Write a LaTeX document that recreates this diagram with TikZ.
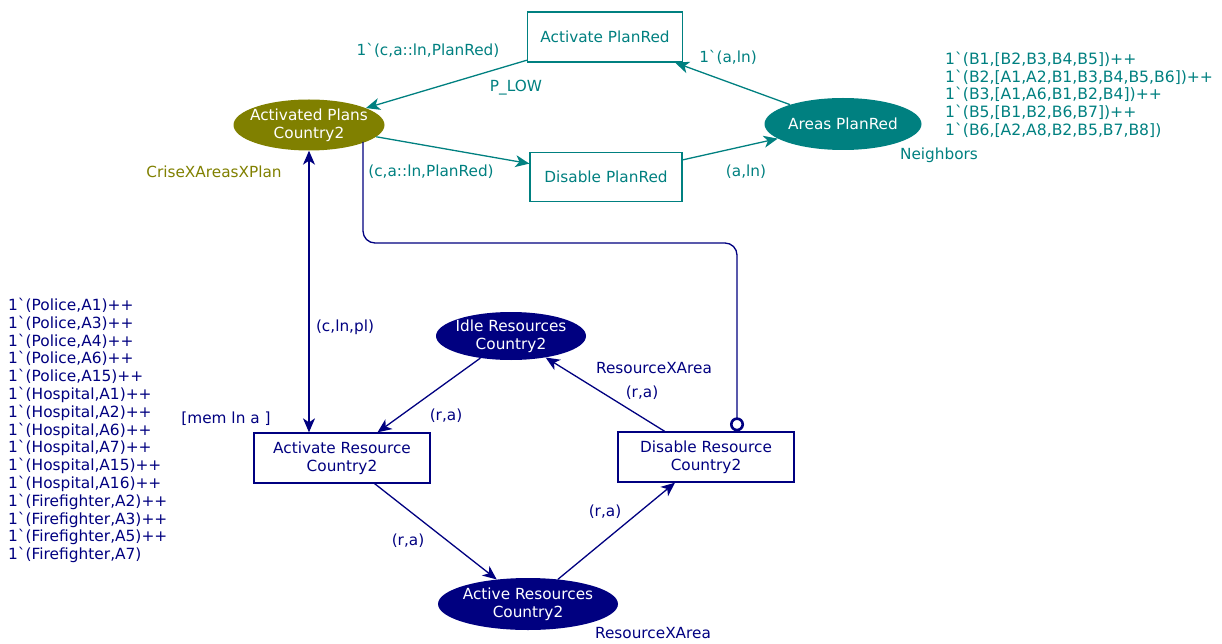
\documentclass[tikz,border=0pt]{standalone}
\usepackage{fontspec}
\newfontfamily\df{DejaVu Sans}
\usetikzlibrary{arrows.meta,shapes.geometric}
\definecolor{cteal}{RGB}{0,128,128}
\definecolor{colive}{RGB}{128,128,0}
\definecolor{cnavy}{RGB}{0,0,128}
\begin{document}
\begin{tikzpicture}[x=1pt,y=-1pt,
  every node/.style={font=\df\fontsize{15.3}{18}\selectfont},
  place/.style={ellipse, fill=#1, inner sep=0pt},
  ptext/.style={label={[text=white, align=center, inner sep=0pt]center:#1}},
  trans/.style={draw=#1, fill=white, text=#1, align=center, line width=1.3pt, inner sep=0pt},
  arc/.style={draw=#1, line width=1.3pt, -{Stealth[length=14pt,width=12pt,inset=4pt]}},
  lbl/.style={text=#1, inner sep=0pt},
]
\useasboundingbox (0,0) rectangle (1222,644);
% places
\node[place=colive, minimum width=151pt, minimum height=51pt, ptext={Activated Plans\\Country2}] (apl) at (309,125) {};
\node[place=cteal, minimum width=157pt, minimum height=52pt, ptext={Areas PlanRed}] (area) at (843,124) {};
\node[place=cnavy, minimum width=150pt, minimum height=48pt, ptext={Idle Resources\\Country2}] (idle) at (511,336) {};
\node[place=cnavy, minimum width=180pt, minimum height=52pt, ptext={Active Resources\\Country2}] (act) at (528,604) {};
% transitions
\node[trans=cteal, minimum width=155pt, minimum height=50pt] (actp) at (605,37) {Activate PlanRed};
\node[trans=cteal, minimum width=152pt, minimum height=49pt] (dp) at (606,177) {Disable PlanRed};
\node[trans=cnavy, minimum width=176pt, minimum height=50pt] (ar) at (342,458) {Activate Resource\\Country2};
\node[trans=cnavy, minimum width=176pt, minimum height=50pt] (dr) at (706,457) {Disable Resource\\Country2};
% arcs
\draw[arc=cteal] (actp) -- (apl);
\draw[arc=cteal] (apl) -- (dp);
\draw[arc=cteal] (dp) -- (area);
\draw[arc=cteal] (area) -- (actp);
\draw[draw=cnavy, line width=1.3pt, {Stealth[length=14pt,width=12pt,inset=4pt]}-{Stealth[length=14pt,width=12pt,inset=4pt]}] (apl.south) -- (apl.south |- ar.north);
\coordinate (k) at (737,243);
\draw[draw=cnavy, line width=1.3pt, rounded corners=12pt, -{Circle[open,length=14pt,line width=2.6pt]}] ([shift={(54,17)}]apl.center) |- (k) -- (k |- dr.north);
\draw[arc=cnavy] (idle) -- (ar);
\draw[arc=cnavy] (dr) -- (idle);
\draw[arc=cnavy] (ar) -- (act);
\draw[arc=cnavy] (act) -- (dr);
% labels
\node[lbl=cteal] (l1) at (428,50) {1`(c,a::ln,PlanRed)};
\node[lbl=cteal] (l2) at (516,88) {P\_LOW};
\node[lbl=cteal] (l3) at (728,57) {1`(a,ln)};
\node[lbl=cteal] (l4) at (431,172) {(c,a::ln,PlanRed)};
\node[lbl=cteal] (l5) at (746,172) {(a,ln)};
\node[lbl=cteal] (l6) at (939,155) {Neighbors};
\node[lbl=cteal, anchor=north west, align=left, font=\df\fontsize{15.6}{17.6}\selectfont] (l7) at (945,52) {1`(B1,[B2,B3,B4,B5])++\\1`(B2,[A1,A2,B1,B3,B4,B5,B6])++\\1`(B3,[A1,A6,B1,B2,B4])++\\1`(B5,[B1,B2,B6,B7])++\\1`(B6,[A2,A8,B2,B5,B7,B8])};
\node[lbl=colive] (l8) at (214,172) {CriseXAreasXPlan};
\node[lbl=cnavy] (l9) at (345,327) {(c,ln,pl)};
\node[lbl=cnavy] (l10) at (226,419) {[mem ln a ]};
\node[lbl=cnavy] (l11) at (446,416) {(r,a)};
\node[lbl=cnavy] (l12) at (654,368) {ResourceXArea};
\node[lbl=cnavy] (l13) at (642,393) {(r,a)};
\node[lbl=cnavy] (l14) at (408,541) {(r,a)};
\node[lbl=cnavy] (l15) at (605,512) {(r,a)};
\node[lbl=cnavy] (l16) at (653,633) {ResourceXArea};
\node[lbl=cnavy, anchor=north west, align=left, font=\df\fontsize{15.4}{17.8}\selectfont] (l17) at (8,298) {1`(Police,A1)++\\1`(Police,A3)++\\1`(Police,A4)++\\1`(Police,A6)++\\1`(Police,A15)++\\1`(Hospital,A1)++\\1`(Hospital,A2)++\\1`(Hospital,A6)++\\1`(Hospital,A7)++\\1`(Hospital,A15)++\\1`(Hospital,A16)++\\1`(Firefighter,A2)++\\1`(Firefighter,A3)++\\1`(Firefighter,A5)++\\1`(Firefighter,A7)};
\end{tikzpicture}
\end{document}
